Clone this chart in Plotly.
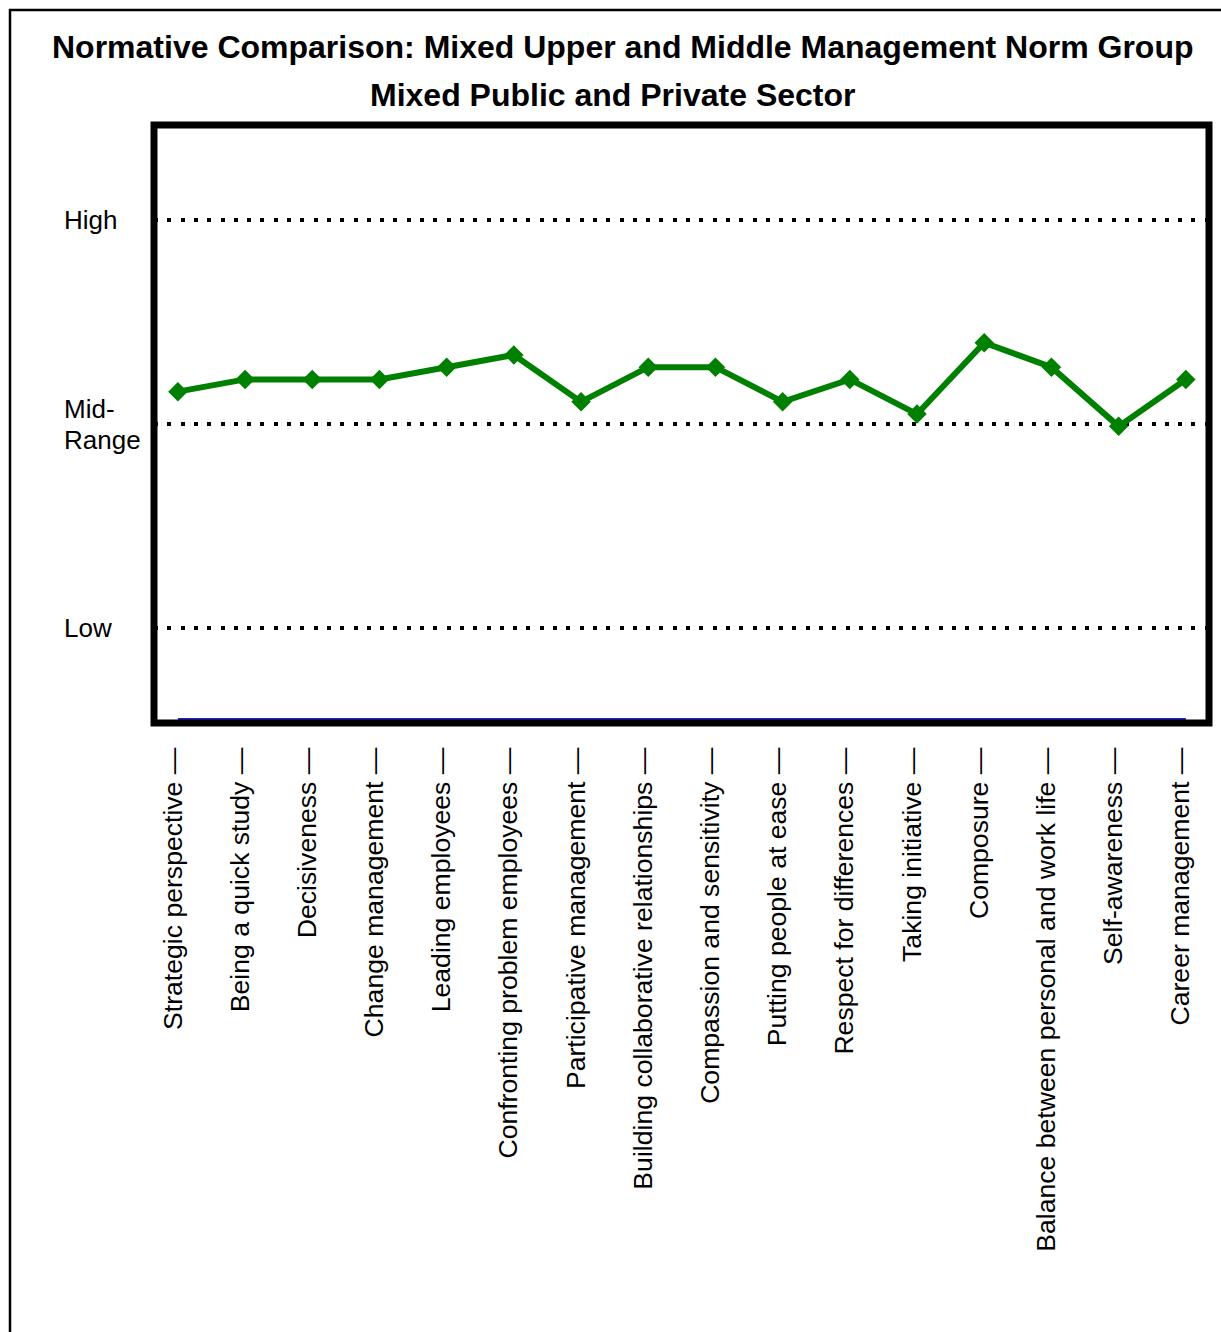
import plotly.graph_objects as go

# ---- data ----
categories = [
    "Strategic perspective", "Being a quick study", "Decisiveness", "Change management",
    "Leading employees", "Confronting problem employees", "Participative management",
    "Building collaborative relationships", "Compassion and sensitivity",
    "Putting people at ease", "Respect for differences", "Taking initiative", "Composure",
    "Balance between personal and work life", "Self-awareness", "Career management",
]
norm_scores = [2.16, 2.22, 2.22, 2.22, 2.28, 2.34, 2.11, 2.28, 2.28, 2.11, 2.22, 2.05, 2.40, 2.28, 1.99, 2.22]
baseline_scores = [0.555, 0.555, 0.555, 0.555, 0.555, 0.555, 0.555, 0.555,
                   0.555, 0.555, 0.555, 0.555, 0.555, 0.555, 0.555, 0.555]
level_values = [3, 2, 1]
level_labels = ["High", "Mid-Range", "Low"]
title_lines = ["Normative Comparison: Mixed Upper and Middle Management Norm Group",
               "Mixed Public and Private Sector"]

FONT = "Liberation Sans, Arial, sans-serif"
W, H = 1221, 1332
ML, MR, MT, MB = 154, 12, 125, 609
PW = W - ML - MR
PH = H - MT - MB


def px_x(px):
    return (px - ML) / PW


def px_y(py):
    return (H - MB - py) / PH


x_idx = list(range(len(categories)))

fig = go.Figure()
fig.add_trace(go.Scatter(
    x=x_idx, y=baseline_scores, mode="lines",
    line=dict(color="#2424c8", width=2), hoverinfo="skip", showlegend=False,
))
fig.add_trace(go.Scatter(
    x=x_idx, y=norm_scores, mode="lines+markers",
    line=dict(color="#008000", width=6),
    marker=dict(symbol="diamond", size=15, color="#008000"),
    showlegend=False,
))

annotations = []
# title lines
annotations.append(dict(text="<b>%s</b>" % title_lines[0], xref="paper", yref="paper",
                        x=px_x(622), y=px_y(47), xanchor="center", yanchor="middle",
                        showarrow=False, font=dict(family=FONT, size=32, color="black")))
annotations.append(dict(text="<b>%s</b>" % title_lines[1], xref="paper", yref="paper",
                        x=px_x(612), y=px_y(95), xanchor="center", yanchor="middle",
                        showarrow=False, font=dict(family=FONT, size=32, color="black")))
# level labels
for v, lab in zip(level_values, level_labels):
    if lab == "Mid-Range":
        for txt, sh in (("Mid-", 15), ("Range", -16)):
            annotations.append(dict(text=txt, xref="paper", yref="y", x=px_x(62), y=v,
                                    yshift=sh, xanchor="left", yanchor="middle", showarrow=False,
                                    font=dict(family=FONT, size=26, color="black")))
    else:
        annotations.append(dict(text=lab, xref="paper", yref="y", x=px_x(62), y=v,
                                xanchor="left", yanchor="middle", showarrow=False,
                                font=dict(family=FONT, size=26, color="black")))

shapes = [
    # thick plot frame
    dict(type="rect", xref="paper", yref="paper", x0=0, x1=1, y0=0, y1=1,
         line=dict(color="black", width=7), layer="above"),
    # outer page border
    dict(type="rect", xref="paper", yref="paper", x0=px_x(10), x1=px_x(1320),
         y0=px_y(1400), y1=px_y(10), line=dict(color="black", width=2.5), layer="above"),
]

fig.update_layout(
    width=W, height=H,
    margin=dict(l=ML, r=MR, t=MT, b=MB, pad=0),
    paper_bgcolor="white", plot_bgcolor="white",
    annotations=annotations, shapes=shapes,
    font=dict(family=FONT, color="black"),
)
fig.update_xaxes(
    range=[-0.355, 15.345], tickmode="array", tickvals=x_idx,
    ticktext=[c + " \u2014" for c in categories], tickangle=-90,
    tickfont=dict(family=FONT, size=26.6, color="black"),
    ticks="outside", ticklen=13, tickcolor="rgba(0,0,0,0)",
    ticklabelshift=-5,
    showgrid=False, zeroline=False, showline=False,
)
fig.update_yaxes(
    range=[0.536, 3.467], tickmode="array", tickvals=level_values, showticklabels=False,
    showgrid=True, gridcolor="black", gridwidth=4, griddash="4px,9.3px",
    zeroline=False, showline=False, ticks="",
)

fig.write_html("out.html")
